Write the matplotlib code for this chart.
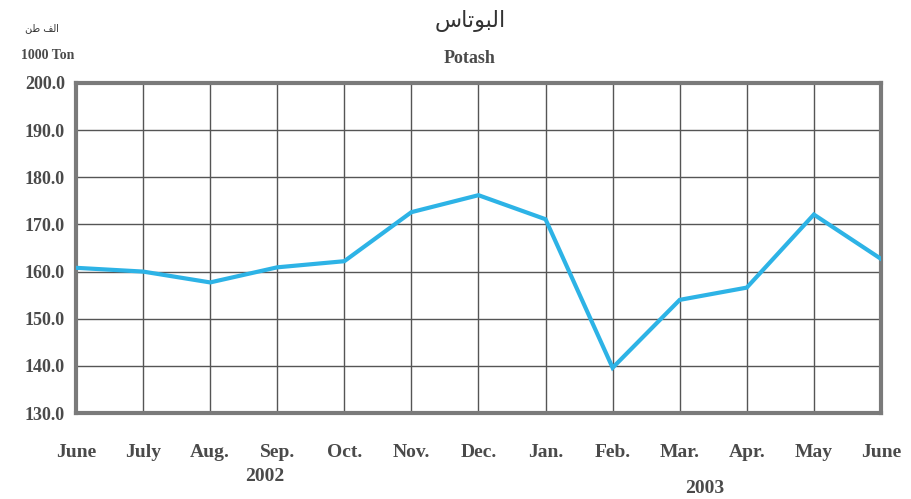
import matplotlib
matplotlib.use("Agg")
import matplotlib.pyplot as plt

# monthly potash values, June 2002 .. June 2003 (1000 ton)
months = ["June", "July", "Aug.", "Sep.", "Oct.", "Nov.", "Dec.",
          "Jan.", "Feb.", "Mar.", "Apr.", "May", "June"]
potash = [160.8, 160.0, 157.7, 160.9, 162.2, 172.6, 176.2,
          171.1, 139.6, 154.0, 156.6, 172.1, 162.7]
yticks = [130.0, 140.0, 150.0, 160.0, 170.0, 180.0, 190.0, 200.0]

# arabic in presentation forms, visual order (matplotlib does no shaping)
title_ar = "\uFEB1\uFE8E\uFE97\uFEEE\uFE92\uFEDF\uFE8D"   # البوتاس
unit_ar = "\uFEE6\uFEC3 \uFED2\uFEDF\uFE8D"               # الف طن

txt = "#4a4a4a"
serif = "Liberation Serif"

fig = plt.figure(figsize=(9.11, 4.99), dpi=100)
ax = fig.add_axes([0.0834, 0.1723, 0.8836, 0.6614])

x = range(len(months))
ax.plot(x, potash, color="#2db3e6", lw=3, solid_joinstyle="miter", zorder=3)

ax.set_xlim(0, len(months) - 1)
ax.set_ylim(130, 200)
ax.set_xticks(list(x))
ax.set_xticklabels(months)
ax.set_yticks(yticks)
ax.set_yticklabels(["%.1f" % v for v in yticks])
ax.grid(True, color="#555555", lw=1.0)
ax.tick_params(length=0, pad=8, labelcolor=txt)
ax.tick_params(axis="x", pad=22)
for lab in ax.get_yticklabels():
    lab.set_fontfamily(serif)
    lab.set_fontweight("bold")
    lab.set_fontsize(13)
for lab in ax.get_xticklabels():
    lab.set_fontfamily(serif)
    lab.set_fontweight("bold")
    lab.set_fontsize(14)
for sp in ax.spines.values():
    sp.set_color("#7a7a7a")
    sp.set_linewidth(3)

fig.text(0.5159, 0.958, title_ar, ha="center", va="center", fontsize=16,
         family=["DejaVu Sans"], color="#333333")
fig.text(0.5159, 0.883, "Potash", ha="center", va="center", fontsize=13,
         family=serif, fontweight="bold", color=txt)
fig.text(0.046, 0.943, unit_ar, ha="center", va="center", fontsize=7,
         family=["DejaVu Sans"], color="#333333")
fig.text(0.052, 0.889, "1000 Ton", ha="center", va="center", fontsize=10,
         family=serif, fontweight="bold", color=txt)
fig.text(0.291, 0.046, "2002", ha="center", va="center", fontsize=14,
         family=serif, fontweight="bold", color=txt)
fig.text(0.774, 0.022, "2003", ha="center", va="center", fontsize=14,
         family=serif, fontweight="bold", color=txt)

fig.savefig("out.png", dpi=100, facecolor="white")
